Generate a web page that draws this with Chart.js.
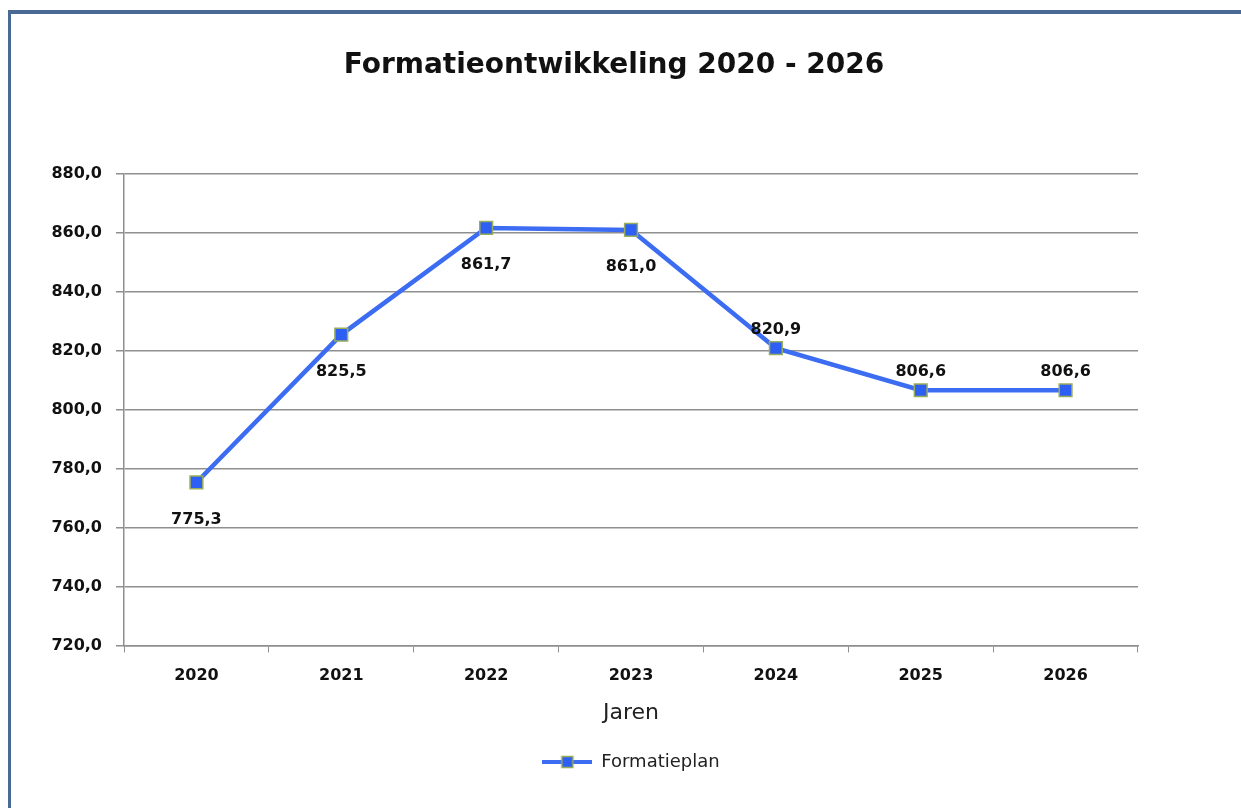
<!DOCTYPE html>
<html>
<head>
<meta charset="utf-8">
<script src="https://cdn.jsdelivr.net/npm/chart.js@4"></script>
<style>
  html, body { margin:0; padding:0; background:#fff; width:1241px; height:808px; overflow:hidden; }
  #frame { position:absolute; left:8px; top:10px; width:1241px; height:808px;
           border-top:4px solid #4a6a96; border-left:3px solid #4a6a96; }
  #wrap { position:absolute; left:0; top:0; width:1241px; height:808px; }
</style>
</head>
<body>
<div id="frame"></div>
<div id="wrap"><canvas id="c" width="1241" height="808"></canvas></div>
<script>
const categories = ['2020','2021','2022','2023','2024','2025','2026'];
const formatieplan = [775.3, 825.5, 861.7, 861.0, 820.9, 806.6, 806.6];
const labelBelow = [true, true, true, true, false, false, false];
const yMin = 720, yMax = 880, yStep = 20;
const chartTitle = 'Formatieontwikkeling 2020 - 2026';

const FONT = "'DejaVu Sans', Verdana, sans-serif";
const LINE = '#3b6cf2';
const MFILL = '#2d5ff5';
const MBORDER = '#98ad5a';
const GRID = '#8f8f8f';

const fmt = v => v.toFixed(1).replace('.', ',');

// legend icon: line with square marker
const icon = document.createElement('canvas');
icon.width = 50; icon.height = 14;
(function(){
  const g = icon.getContext('2d');
  g.strokeStyle = LINE; g.lineWidth = 4;
  g.beginPath(); g.moveTo(0,7); g.lineTo(50,7); g.stroke();
  g.fillStyle = MFILL; g.fillRect(19,1,12,12);
  g.strokeStyle = MBORDER; g.lineWidth = 1.5; g.strokeRect(19.5,1.5,11,11);
})();

const extras = {
  id: 'extras',
  afterLayout(chart) {
    // centre the legend under the plot area
    const lg = chart.legend;
    if (lg) {
      const shift = (chart.chartArea.left + chart.chartArea.right) / 2 - (lg.left + lg.right) / 2;
      lg.left += shift; lg.right += shift;
    }
  },
  afterDatasetsDraw(chart) {
    const ctx = chart.ctx;
    const meta = chart.getDatasetMeta(0);
    ctx.save();
    ctx.font = 'bold 16px ' + FONT;
    ctx.fillStyle = '#111';
    ctx.textAlign = 'center';
    ctx.textBaseline = 'middle';
    meta.data.forEach((pt, i) => {
      const dy = labelBelow[i] ? 37 : -18;
      ctx.fillText(fmt(formatieplan[i]), pt.x, pt.y + dy);
    });
    // chart title
    ctx.font = 'bold 28px ' + FONT;
    ctx.fillText(chartTitle, 614, 66);
    ctx.restore();
  }
};

new Chart(document.getElementById('c'), {
  type: 'line',
  data: {
    labels: categories,
    datasets: [{
      label: 'Formatieplan',
      data: formatieplan,
      borderColor: LINE,
      borderWidth: 4.5,
      backgroundColor: MFILL,
      pointStyle: 'rect',
      pointRadius: 9,
      pointBackgroundColor: MFILL,
      pointBorderColor: MBORDER,
      pointBorderWidth: 1.5,
      tension: 0,
      fill: false
    }]
  },
  options: {
    responsive: false,
    animation: false,
    devicePixelRatio: 1,
    layout: { padding: { left: 40, right: 103, top: 174, bottom: 27 } },
    plugins: {
      title: { display: false },
      legend: {
        position: 'bottom',
        labels: {
          usePointStyle: true,
          pointStyle: icon,
          pointStyleWidth: 50,
          font: { family: FONT, size: 18 },
          color: '#222',
          padding: 10,
          generateLabels: (chart) => [{
            text: 'Formatieplan', pointStyle: icon, fillStyle: MFILL,
            strokeStyle: LINE, lineWidth: 0, datasetIndex: 0, fontColor: '#222'
          }]
        }
      },
      tooltip: { enabled: false }
    },
    scales: {
      x: {
        offset: true,
        grid: { offset: true, drawOnChartArea: false, drawTicks: true, tickLength: 7, color: GRID },
        border: { color: GRID, width: 1.5 },
        ticks: { font: { family: FONT, size: 16, weight: 'bold' }, color: '#111', padding: 14 },
        title: { display: true, text: 'Jaren', font: { family: FONT, size: 22 }, color: '#222', padding: { top: 0, bottom: 17 } }
      },
      y: {
        min: yMin, max: yMax,
        afterFit: s => { s.width = 84; },
        grid: { color: GRID, lineWidth: 1.5, tickLength: 8 },
        border: { color: GRID, width: 1.5 },
        ticks: {
          stepSize: yStep,
          font: { family: FONT, size: 16, weight: 'bold' },
          color: '#111',
          padding: 14,
          callback: v => fmt(v)
        }
      }
    }
  },
  plugins: [extras]
});
</script>
</body>
</html>
